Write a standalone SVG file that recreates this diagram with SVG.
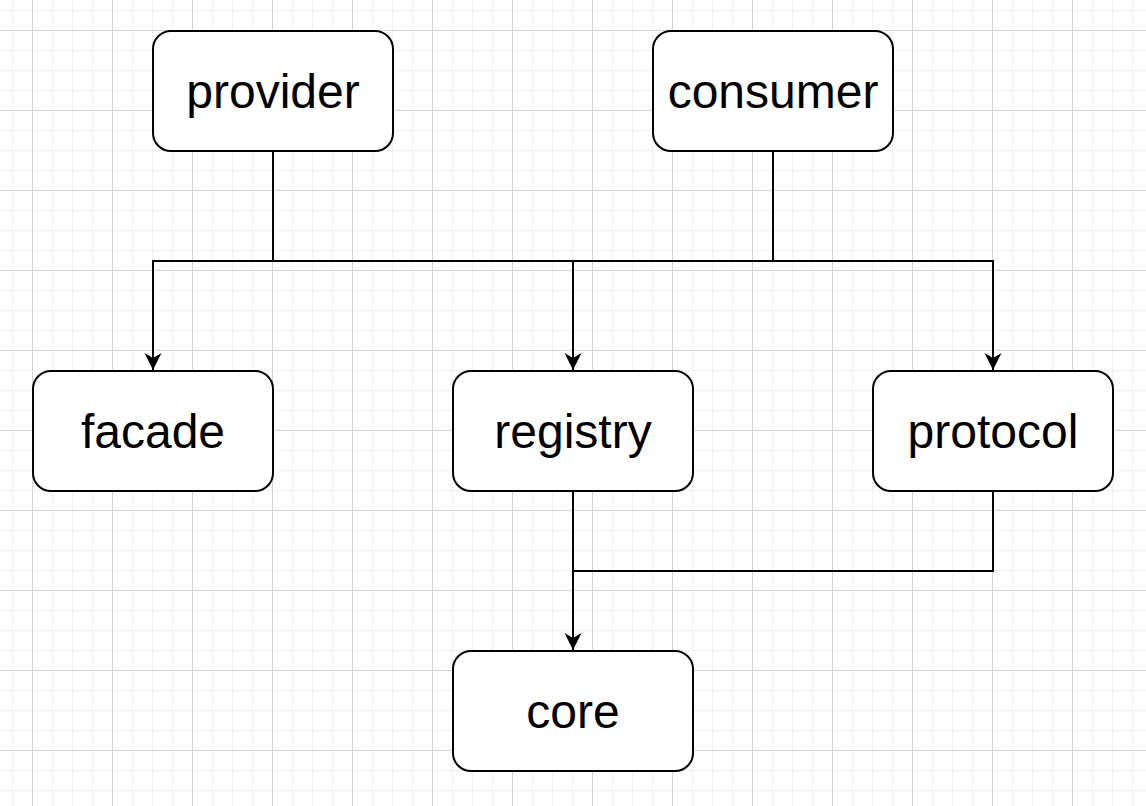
<svg xmlns="http://www.w3.org/2000/svg" width="1146" height="806" viewBox="0 0 1146 806">
<defs>
<pattern id="minor" x="12" y="10" width="20" height="20" patternUnits="userSpaceOnUse">
<path d="M0.5 0V20M0 0.5H20" fill="none" stroke="#f0f0f0" stroke-width="1"/>
</pattern>
<pattern id="major" x="32" y="30" width="80" height="80" patternUnits="userSpaceOnUse">
<path d="M0.5 0V80M0 0.5H80" fill="none" stroke="#d4d4d4" stroke-width="1"/>
</pattern>
<marker id="arrow" markerUnits="userSpaceOnUse" markerWidth="20" markerHeight="20" viewBox="-19 -10 20 20" refX="0" refY="0" orient="auto">
<path d="M0 0L-17 -8.5L-12 0L-17 8.5Z" fill="#000"/>
</marker>
<style>
.box{fill:#fff;stroke:#000;stroke-width:2}
.lbl{font-family:"Liberation Sans",Arial,Helvetica,sans-serif;font-size:48px;fill:#000;text-anchor:middle}
.edge{fill:none;stroke:#000;stroke-width:2}
</style>
</defs>
<rect width="1146" height="806" fill="#fff"/>
<rect width="1146" height="806" fill="url(#minor)"/>
<rect width="1146" height="806" fill="url(#major)"/>
<g id="connectors">
<path class="edge" d="M273 151V261H153V370" marker-end="url(#arrow)"/>
<path class="edge" d="M273 261H993V370" marker-end="url(#arrow)"/>
<path class="edge" d="M773 151V261"/>
<path class="edge" d="M573 261V370" marker-end="url(#arrow)"/>
<path class="edge" d="M573 491V650" marker-end="url(#arrow)"/>
<path class="edge" d="M993 491V571H573"/>
</g>
<g id="provider"><rect class="box" x="153" y="31" width="240" height="120" rx="18"/><text class="lbl" x="273" y="108">provider</text></g>
<g id="consumer"><rect class="box" x="653" y="31" width="240" height="120" rx="18"/><text class="lbl" x="773" y="108">consumer</text></g>
<g id="facade"><rect class="box" x="33" y="371" width="240" height="120" rx="18"/><text class="lbl" x="153" y="448">facade</text></g>
<g id="registry"><rect class="box" x="453" y="371" width="240" height="120" rx="18"/><text class="lbl" x="573" y="448">registry</text></g>
<g id="protocol"><rect class="box" x="873" y="371" width="240" height="120" rx="18"/><text class="lbl" x="993" y="448">protocol</text></g>
<g id="core"><rect class="box" x="453" y="651" width="240" height="120" rx="18"/><text class="lbl" x="573" y="728">core</text></g>
</svg>
